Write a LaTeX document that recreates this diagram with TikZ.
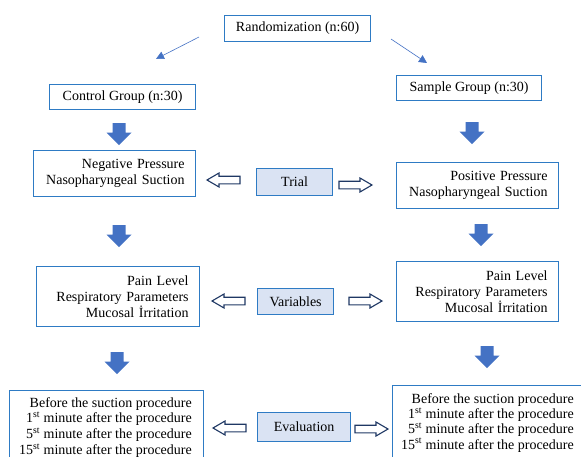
\documentclass[tikz,border=0pt]{standalone}
\usepackage{fontspec}
\setmainfont{Liberation Serif}
\usetikzlibrary{arrows.meta}
\definecolor{boxblue}{HTML}{2E7BC4}
\definecolor{arrblue}{HTML}{4472C4}
\definecolor{navy}{HTML}{1F3864}
\definecolor{lightfill}{HTML}{DAE3F3}
\newcommand\mysup[1]{\raisebox{0pt}[0pt][0pt]{\textsuperscript{#1}}}
\tikzset{
  box/.style={draw=boxblue, line width=1.2pt, fill=white, anchor=north west, inner xsep=11pt, inner ysep=2pt,
    font=\fontsize{14}{16}\selectfont, align=right},
  frame/.style={draw=boxblue, line width=1.2pt, fill=white, anchor=north west, inner sep=0pt},
  evtext/.style={anchor=north east, inner sep=0pt, align=right},
  midbox/.style={draw=boxblue, line width=1.2pt, fill=lightfill, anchor=north west, inner sep=0pt,
    font=\fontsize{14}{16}\selectfont, align=center},
  thinarr/.style={draw=arrblue, line width=0.6pt, -{Triangle[length=8pt,width=8pt]}},
  pics/downarr/.style={code={
    \fill[arrblue] (-6.5,0) -- (6.5,0) -- (6.5,9.5) -- (12.5,9.5) -- (0,22) -- (-12.5,9.5) -- (-6.5,9.5) -- cycle;}},
  pics/hollowright/.style={code={
    \draw[navy, line width=1.1pt, fill=white, line join=miter] (0,-3.8) -- (21,-3.8) -- (21,-7) -- (33,0) -- (21,7) -- (21,3.8) -- (0,3.8) -- cycle;}},
  pics/hollowleft/.style={code={
    \draw[navy, line width=1.1pt, fill=white, line join=miter] (0,-3.8) -- (-21,-3.8) -- (-21,-7) -- (-33,0) -- (-21,7) -- (-21,3.8) -- (0,3.8) -- cycle;}},
}
\begin{document}
\begin{tikzpicture}[x=1pt,y=-1pt]
\useasboundingbox (0,0) rectangle (581,456);
\clip (0,0) rectangle (581,456);
% top
\node[box, align=center, minimum width=146pt, minimum height=26pt] (rand) at (224,15) {Randomization (n:60)};
\node[box, align=center, minimum width=146pt, minimum height=25pt] (ctrl) at (49,84) {Control Group (n:30)};
\node[box, align=center, minimum width=145pt, minimum height=25pt] (samp) at (396,75) {Sample Group (n:30)};
\coordinate (l0) at (199,37);
\coordinate (l1) at (156,59);
\coordinate (r0) at (391,39);
\coordinate (r1) at (427,63);
\draw[thinarr] (l0) -- (l1);
\draw[thinarr] (r0) -- (r1);
% row 1
\pic at (119,123) {downarr};
\pic at (472,122) {downarr};
\node[box, text width=140pt, minimum width=162pt, minimum height=46pt] (neg) at (33,150) {Negative Pressure\\Nasopharyngeal Suction};
\node[midbox, minimum width=76pt, minimum height=27pt] (trial) at (256,168) {Trial};
\node[box, text width=140pt, minimum width=162pt, minimum height=46pt] (pos) at (396,162) {Positive Pressure\\Nasopharyngeal Suction};
\pic at (240,180) {hollowleft};
\pic at (339,185) {hollowright};
% row 2
\pic at (119,225) {downarr};
\pic at (481,224) {downarr};
\node[box, text width=141pt, minimum width=163pt, minimum height=60pt] (varl) at (36,266) {Pain Level\\Respiratory Parameters\\Mucosal İrritation};
\node[midbox, minimum width=76pt, minimum height=26pt] (vars) at (257,288) {Variables};
\node[box, text width=140pt, minimum width=162pt, minimum height=60pt] (varr) at (396,261) {Pain Level\\Respiratory Parameters\\Mucosal İrritation};
\pic at (245,301) {hollowleft};
\pic at (349,301) {hollowright};
% row 3
\pic at (117,352) {downarr};
\pic at (487,346) {downarr};
\node[frame, minimum width=194pt, minimum height=90pt] (evl) at (9,390) {};
\node[evtext, font=\fontsize{14}{15.8}\selectfont] (evltext) at (192,397) {Before the suction procedure\\1\mysup{st} minute after the procedure\\5\mysup{st} minute after the procedure\\15\mysup{st} minute after the procedure};
\node[midbox, minimum width=93pt, minimum height=29pt] (eval) at (257,412) {Evaluation};
\node[frame, minimum width=200pt, minimum height=90pt] (evr) at (392,385) {};
\node[evtext, font=\fontsize{14}{15.2}\selectfont] (evrtext) at (574,393.5) {Before the suction procedure\\1\mysup{st} minute after the procedure\\5\mysup{st} minute after the procedure\\15\mysup{st} minute after the procedure};
\pic at (246,428) {hollowleft};
\pic at (355,429) {hollowright};
\end{tikzpicture}
\end{document}
